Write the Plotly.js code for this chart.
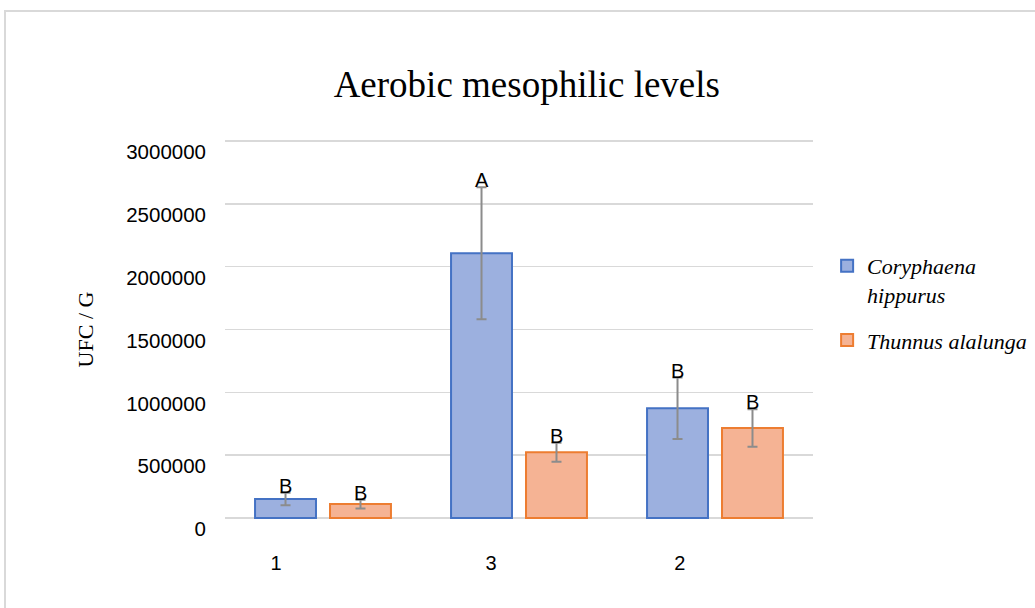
<!DOCTYPE html>
<html>
<head>
<meta charset="utf-8">
<script src="https://cdn.plot.ly/plotly-3.0.1.min.js"></script>
<style>
  html, body { margin: 0; padding: 0; background: #fff; overflow: hidden; }
  #frame { position: absolute; left: 4px; top: 10px; width: 1200px; height: 800px; border: 2px solid #d9d9d9; box-sizing: border-box; }
  #chart { position: absolute; left: 0; top: 0; width: 1035px; height: 608px; }
</style>
</head>
<body>
<div id="frame"></div>
<div id="chart"></div>
<script>
// ---- data ----
const categories = ["1", "3", "2"];
const seriesNames = ["Coryphaena<br>hippurus", "Thunnus alalunga"];
const coryphaenaValues = [151000, 2107000, 873000];
const coryphaenaErrors = [50000, 525000, 245000];
const thunnusValues = [111000, 523000, 716000];
const thunnusErrors = [35000, 75000, 150000];
const coryphaenaLetters = ["B", "A", "B"];
const thunnusLetters = ["B", "B", "B"];
const yTickVals = [0, 500000, 1000000, 1500000, 2000000, 2500000, 3000000];

// ---- layout helpers ----
const pos = categories.map((c, i) => i);
const bargap = 0.235, bargroupgap = 0.187;
const slot = (1 - bargap) / 2;
const barOffset = slot / 2;
const tickShift = [-0.24, -0.143, -0.18];

const blueFill = "#9cb0df", blueLine = "#4472c4";
const orangeFill = "#f5b394", orangeLine = "#ed7d31";
const errColor = "#8c8c8c";

const traces = [
  {
    type: "bar", name: "<i>" + seriesNames[0] + "</i>", legendgroup: "a",
    x: pos, y: coryphaenaValues,
    marker: { color: blueFill, line: { color: blueLine, width: 2 } },
    error_y: { type: "data", array: coryphaenaErrors, visible: true, color: errColor, thickness: 2, width: 5 }
  },
  {
    type: "bar", name: "<i>" + seriesNames[1] + "</i>", legendgroup: "b",
    x: pos, y: thunnusValues,
    marker: { color: orangeFill, line: { color: orangeLine, width: 2 } },
    error_y: { type: "data", array: thunnusErrors, visible: true, color: errColor, thickness: 2, width: 5 }
  }
];

const annotations = [];
pos.forEach((p, i) => {
  annotations.push({
    x: p - barOffset, y: coryphaenaValues[i] + coryphaenaErrors[i], xref: "x", yref: "y",
    text: coryphaenaLetters[i], showarrow: false, yanchor: "bottom", yshift: -6,
    font: { family: "Liberation Sans, Arial, sans-serif", size: 20, color: "#000" }
  });
  annotations.push({
    x: p + barOffset, y: thunnusValues[i] + thunnusErrors[i], xref: "x", yref: "y",
    text: thunnusLetters[i], showarrow: false, yanchor: "bottom", yshift: -6,
    font: { family: "Liberation Sans, Arial, sans-serif", size: 20, color: "#000" }
  });
});

const layout = {
  width: 1035, height: 608,
  margin: { l: 225, r: 222, t: 139, b: 88, pad: 0, autoexpand: false },
  paper_bgcolor: "rgba(0,0,0,0)", plot_bgcolor: "rgba(0,0,0,0)",
  barmode: "group", bargap: bargap, bargroupgap: bargroupgap,
  title: {
    text: "Aerobic mesophilic levels",
    font: { family: "Liberation Serif, Times New Roman, serif", size: 37, color: "#000" },
    x: 0.509, xanchor: "center", y: 0.862, yanchor: "middle"
  },
  xaxis: {
    range: [-0.5, 2.5], showgrid: false, zeroline: false, showline: false, ticks: "",
    tickvals: pos.map((p, i) => p + tickShift[i]), ticktext: categories,
    tickfont: { family: "Liberation Sans, Arial, sans-serif", size: 20, color: "#000" },
    ticklabelstandoff: 29
  },
  yaxis: {
    range: [-16000, 3016000], tickvals: yTickVals, ticktext: yTickVals.map(String),
    showgrid: true, gridcolor: "#d9d9d9", gridwidth: 1.5, zeroline: false, showline: false, ticks: "",
    tickfont: { family: "Liberation Sans, Arial, sans-serif", size: 20.5, color: "#000" },
    ticklabelshift: 11, ticklabelstandoff: 18,
    title: { text: "UFC / G", standoff: 26, font: { family: "Liberation Serif, Times New Roman, serif", size: 22, color: "#000" } }
  },
  legend: {
    x: 1.024, xanchor: "left", y: 0.722, yanchor: "top", valign: "top",
    font: { family: "Liberation Serif, Times New Roman, serif", size: 22, color: "#000" },
    bgcolor: "rgba(0,0,0,0)", itemwidth: 30, tracegroupgap: 14, traceorder: "grouped"
  },
  annotations: annotations,
  showlegend: true
};

Plotly.newPlot("chart", traces, layout, { displayModeBar: false, staticPlot: true });
</script>
</body>
</html>
